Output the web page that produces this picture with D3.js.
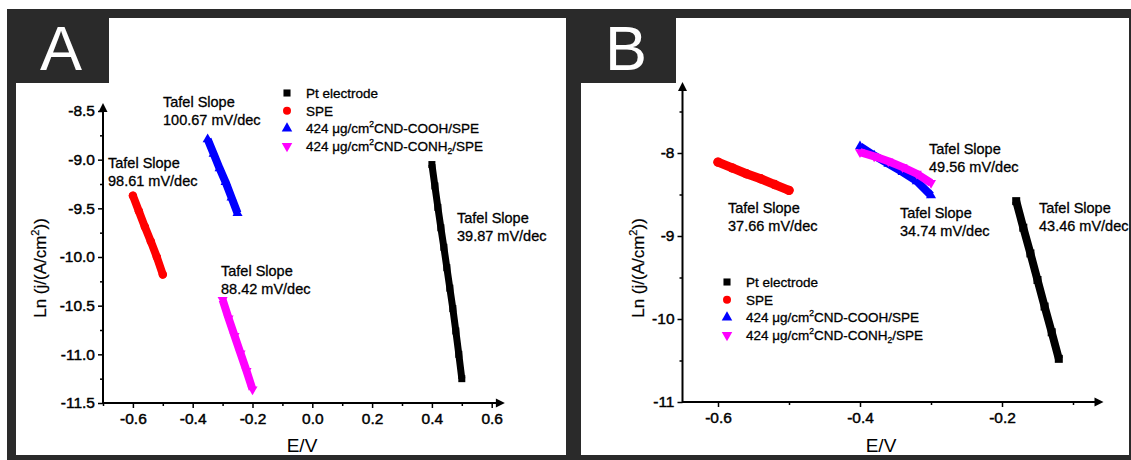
<!DOCTYPE html>
<html><head><meta charset="utf-8">
<script src="https://cdn.jsdelivr.net/npm/d3@7"></script>
<style>
body{margin:0;background:#fff}
svg{display:block}
text{font-family:"Liberation Sans",Arial,Helvetica,sans-serif}
</style>
</head><body>
<svg id="c" width="1131" height="460"></svg>
<script>
// ---------------- DATA ----------------
const seriesNames = ["Pt electrode", "SPE", "424 μg/cm2CND-COOH/SPE", "424 μg/cm2CND-CONH2/SPE"];
const seriesColors = ["#000000", "#ff0000", "#0000ff", "#ff00ff"];

// Panel A : E (V) and Ln(j)
const aPtE   = [0.40, 0.41, 0.42, 0.43, 0.44, 0.45, 0.46, 0.47, 0.48, 0.49, 0.50];
const aPtLn  = [-9.05, -9.27, -9.49, -9.70, -9.90, -10.11, -10.32, -10.53, -10.76, -11.00, -11.25];
const aSpeE  = [-0.60, -0.58, -0.56, -0.54, -0.52, -0.50];
const aSpeLn = [-9.37, -9.53, -9.69, -9.84, -10.00, -10.18];
const aCoohE  = [-0.35, -0.33, -0.31, -0.29, -0.27, -0.25];
const aCoohLn = [-8.79, -8.94, -9.09, -9.23, -9.39, -9.55];
const aConhE  = [-0.30, -0.28, -0.26, -0.24, -0.22, -0.20];
const aConhLn = [-10.44, -10.63, -10.81, -10.99, -11.17, -11.36];
const aSlopes = ["100.67 mV/dec", "98.61 mV/dec", "39.87 mV/dec", "88.42 mV/dec"];
const aXTicks = [-0.6, -0.4, -0.2, 0.0, 0.2, 0.4, 0.6];
const aXLabels = ["-0.6", "-0.4", "-0.2", "0.0", "0.2", "0.4", "0.6"];
const aXMinor = [-0.7, -0.5, -0.3, -0.1, 0.1, 0.3, 0.5];
const aYTicks = [-11.5, -11.0, -10.5, -10.0, -9.5, -9.0, -8.5];
const aYLabels = ["-11.5", "-11.0", "-10.5", "-10.0", "-9.5", "-9.0", "-8.5"];
const aYMinor = [-11.25, -10.75, -10.25, -9.75, -9.25, -8.75];

// Panel B
const bPtE   = [-0.18, -0.17, -0.16, -0.15, -0.14, -0.13, -0.12];
const bPtLn  = [-8.58, -8.90, -9.21, -9.53, -9.85, -10.16, -10.48];
const bSpeE  = [-0.60, -0.58, -0.56, -0.54, -0.52, -0.50];
const bSpeLn = [-8.11, -8.18, -8.25, -8.31, -8.38, -8.45];
const bCoohE  = [-0.40, -0.38, -0.36, -0.34, -0.32, -0.30];
const bCoohLn = [-7.92, -8.03, -8.13, -8.23, -8.34, -8.51];
const bConhE  = [-0.40, -0.38, -0.36, -0.34, -0.32, -0.30];
const bConhLn = [-7.99, -8.04, -8.10, -8.17, -8.25, -8.36];
const bSlopes = ["37.66 mV/dec", "49.56 mV/dec", "34.74 mV/dec", "43.46 mV/dec"];
const bXTicks = [-0.6, -0.4, -0.2];
const bXLabels = ["-0.6", "-0.4", "-0.2"];
const bXMinor = [-0.5, -0.3, -0.1];
const bYTicks = [-11, -10, -9, -8];
const bYLabels = ["-11", "-10", "-9", "-8"];
const bYMinor = [-10.5, -9.5, -8.5, -7.5];

const zip = (xs, ys) => xs.map((x, i) => [x, ys[i]]);

// ---------------- DRAW ----------------
const svg = d3.select("#c");
const DARK = "#2a2a2a";
svg.append("rect").attr("width", 1131).attr("height", 460).attr("fill", "#fff");

function frame(x0, w, innerL, innerR, boxW, letter, letterX) {
  svg.append("rect").attr("x", x0).attr("y", 9).attr("width", w).attr("height", 451).attr("fill", DARK);
  svg.append("rect").attr("x", innerL).attr("y", 18).attr("width", innerR - innerL).attr("height", 437).attr("fill", "#fff");
  svg.append("rect").attr("x", x0).attr("y", 9).attr("width", boxW).attr("height", 74).attr("fill", DARK);
  svg.append("text").attr("x", letterX).attr("y", 70).attr("fill", "#fff")
    .style("font-size", "63px").text(letter);
}
frame(7, 563, 16, 566, 102, "A", 40);
frame(569, 562, 581, 1129, 107, "B", 605);

const symbols = [
  d3.symbol().type(d3.symbolSquare),
  d3.symbol().type(d3.symbolCircle),
  d3.symbol().type(d3.symbolTriangle),
  d3.symbol().type(d3.symbolTriangle)
];
function marker(g, k, cx, cy, size) {
  g.append("path").attr("d", symbols[k].size(size)())
    .attr("transform", `translate(${cx},${cy})` + (k === 3 ? " rotate(180)" : ""))
    .attr("fill", seriesColors[k]);
}

function panel(cfg) {
  const g = svg.append("g");
  const x = d3.scaleLinear().domain(cfg.xDom).range(cfg.xRange);
  const y = d3.scaleLinear().domain(cfg.yDom).range(cfg.yRange);
  const x0 = cfg.xRange[0], y0 = cfg.yRange[0];
  const xTip = x(cfg.xEnd), yTip = y(cfg.yEnd);

  // series
  const lineY = d3.line().x(d => x(d[0])).y(d => y(d[1])).curve(d3.curveLinear);
  cfg.series.forEach((s, k) => {
    g.append("path").datum(s).attr("d", lineY)
      .attr("fill", "none").attr("stroke", seriesColors[k])
      .attr("stroke-width", cfg.bandW[k]).attr("stroke-linejoin", "round")
      .attr("stroke-linecap", k === 1 ? "round" : "butt");
    s.forEach(p => marker(g, k, x(p[0]), y(p[1]), cfg.markSize[k]));
  });

  // axes
  const tickStyle = sel => {
    sel.select(".domain").remove();
    sel.selectAll(".tick line").attr("stroke", "#000").attr("stroke-width", 1.5);
    sel.selectAll(".tick text").attr("fill", "#000").attr("stroke", "#000").attr("stroke-width", 0.45)
      .style("font-size", "15.5px");
  };
  g.append("g").attr("transform", `translate(0,${y0})`)
    .call(d3.axisBottom(x).tickValues(cfg.xTicks).tickFormat((d, i) => cfg.xLabels[i]).tickSize(5).tickPadding(5))
    .call(tickStyle);
  g.append("g").attr("transform", `translate(0,${y0})`)
    .call(d3.axisBottom(x).tickValues(cfg.xMinor).tickFormat("").tickSize(3))
    .call(tickStyle);
  g.append("g").attr("transform", `translate(${x0},0)`)
    .call(d3.axisLeft(y).tickValues(cfg.yTicks).tickFormat((d, i) => cfg.yLabels[i]).tickSize(5).tickPadding(3))
    .call(tickStyle);
  g.append("g").attr("transform", `translate(${x0},0)`)
    .call(d3.axisLeft(y).tickValues(cfg.yMinor).tickFormat("").tickSize(3))
    .call(tickStyle);

  // axis lines + arrows
  g.append("line").attr("x1", x0).attr("x2", xTip - 6).attr("y1", y0).attr("y2", y0)
    .attr("stroke", "#000").attr("stroke-width", 2);
  g.append("line").attr("x1", x0).attr("x2", x0).attr("y1", y0 + 1).attr("y2", yTip + 6)
    .attr("stroke", "#000").attr("stroke-width", 2);
  g.append("path").attr("d", `M${xTip},${y0} L${xTip - 9},${y0 - 4.5} L${xTip - 9},${y0 + 4.5} Z`).attr("fill", "#000");
  g.append("path").attr("d", `M${x0},${yTip} L${x0 - 4.5},${yTip + 9} L${x0 + 4.5},${yTip + 9} Z`).attr("fill", "#000");

  // axis titles
  g.append("text").attr("x", cfg.xTitle[0]).attr("y", cfg.xTitle[1]).attr("text-anchor", "middle")
    .style("font-size", "19px").attr("fill", "#000").text("E/V");
  const yt = g.append("text").attr("transform", `translate(${cfg.yTitle[0]},${cfg.yTitle[1]}) rotate(-90)`)
    .attr("text-anchor", "middle").style("font-size", "17px").attr("fill", "#000")
    .attr("stroke", "#000").attr("stroke-width", 0.2);
  yt.append("tspan").text("Ln (j/(A/cm");
  yt.append("tspan").attr("dy", -7).style("font-size", "11px").text("2");
  yt.append("tspan").attr("dy", 7).text("))");

  // annotations
  cfg.notes.forEach((n, i) => {
    const t = g.append("text").attr("x", n[0]).attr("y", n[1]).style("font-size", "14.5px")
      .attr("fill", "#000").attr("stroke", "#000").attr("stroke-width", 0.3);
    t.append("tspan").attr("x", n[0]).text("Tafel Slope");
    t.append("tspan").attr("x", n[0]).attr("dy", 18).text(cfg.slopes[i]);
  });

  // legend
  const lg = g.append("g");
  seriesNames.forEach((name, k) => {
    const by = cfg.legY + k * cfg.legDy;
    marker(lg, k, cfg.legX, by - 5, k >= 2 ? 48 : 50);
    const t = lg.append("text").attr("x", cfg.legX + 19).attr("y", by).style("font-size", "13.5px")
      .attr("fill", "#000").attr("stroke", "#000").attr("stroke-width", 0.3);
    if (k < 2) { t.text(name); }
    else {
      t.append("tspan").text("424 μg/cm");
      t.append("tspan").attr("dy", -6).style("font-size", "8.5px").text("2");
      t.append("tspan").attr("dy", 6).text(k === 2 ? "CND-COOH/SPE" : "CND-CONH");
      if (k === 3) {
        t.append("tspan").attr("dy", 3).style("font-size", "8.5px").text("2");
        t.append("tspan").attr("dy", -3).text("/SPE");
      }
    }
  });
}

panel({
  xDom: [-0.7, 0.6], xRange: [103, 103 + 1.3 * 299], xEnd: 0.644,
  yDom: [-11.5, -8.5], yRange: [403, 111], yEnd: -8.418,
  xTicks: aXTicks, xLabels: aXLabels, xMinor: aXMinor,
  yTicks: aYTicks, yLabels: aYLabels, yMinor: aYMinor,
  series: [zip(aPtE, aPtLn), zip(aSpeE, aSpeLn), zip(aCoohE, aCoohLn), zip(aConhE, aConhLn)],
  bandW: [7, 8, 8, 8], markSize: [49, 56, 44, 44],
  xTitle: [302, 452], yTitle: [46, 268],
  notes: [[163, 107], [108, 168], [457, 223], [221, 276]],
  slopes: aSlopes,
  legX: 287, legY: 98, legDy: 17.7
});

panel({
  xDom: [-0.65, -0.06], xRange: [718 - 35.5, 718 + 0.54 * 710], xEnd: -0.057,
  yDom: [-11, -8], yRange: [402, 153], yEnd: -7.145,
  xTicks: bXTicks, xLabels: bXLabels, xMinor: bXMinor,
  yTicks: bYTicks, yLabels: bYLabels, yMinor: bYMinor,
  series: [zip(bPtE, bPtLn), zip(bSpeE, bSpeLn), zip(bCoohE, bCoohLn), zip(bConhE, bConhLn)],
  bandW: [8, 9, 8, 8], markSize: [64, 70, 44, 44],
  xTitle: [881, 452], yTitle: [644, 268],
  notes: [[728, 213], [929, 154], [900, 218], [1039, 213]],
  slopes: bSlopes,
  legX: 727, legY: 287, legDy: 17.7
});
</script>
</body></html>
